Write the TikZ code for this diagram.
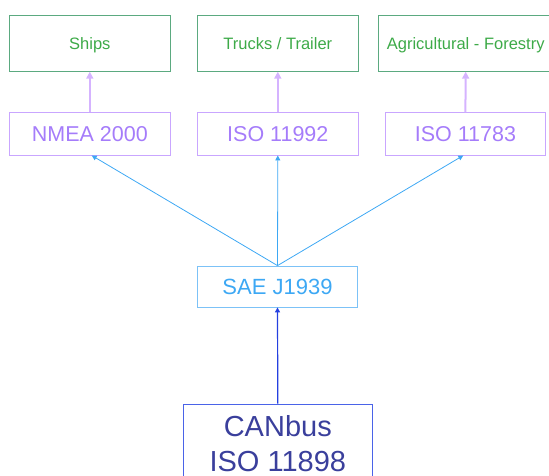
\documentclass[tikz,border=0pt]{standalone}
\usepackage{fontspec}
\setmainfont{Liberation Sans}
\usetikzlibrary{arrows.meta}
\definecolor{appdraw}{HTML}{5BAA80}
\definecolor{apptext}{HTML}{3DAA48}
\definecolor{stddraw}{HTML}{C9A6FF}
\definecolor{stdtext}{HTML}{A57CFA}
\definecolor{stdarrow}{HTML}{D5B3FF}
\definecolor{saedraw}{HTML}{7CC2F7}
\definecolor{saetext}{HTML}{3DA8F4}
\definecolor{candraw}{HTML}{4A63E8}
\definecolor{cantext}{HTML}{3A3F9C}
\definecolor{canarrow}{HTML}{2440E0}
\begin{document}
\begin{tikzpicture}[x=1pt,y=-1pt,box/.style={shape=rectangle,draw,inner sep=0pt,line width=0.8pt},appbox/.style={box,draw=appdraw,text=apptext,minimum width=161,minimum height=56,text height=13pt,text depth=0pt,font=\fontsize{16.5}{20}\selectfont},stdbox/.style={box,draw=stddraw,text=stdtext,minimum width=161,minimum height=42.3,text height=15.6pt,text depth=0pt,font=\fontsize{21.5}{26}\selectfont},up/.style={-{Triangle[length=5pt,width=5pt]}},upwide/.style={-{Triangle[length=7pt,width=7pt]}}]
\def\dx{188};
\def\xa{89.8};
\def\ya{43.3};
\def\yb{133.9};

\clip (0,0) rectangle (549,475);

\node[appbox] (ships) at (\xa,\ya) {Ships};
\node[appbox] (trucks) at (\xa+\dx,\ya) {Trucks / Trailer};
\node[appbox,minimum width=175] (agri) at (\xa+2*\dx-0.1,\ya) {Agricultural - Forestry};

\node[stdbox] (nmea) at (\xa,\yb) {NMEA 2000};
\draw[upwide,stdarrow,line width=2pt] (nmea.north) -- (ships.south);
\node[stdbox] (isoA) at (\xa+\dx,\yb) {ISO 11992};
\draw[upwide,stdarrow,line width=2pt] (isoA.north) -- (trucks.south);
\node[stdbox,minimum width=160.7] (isoB) at (\xa+2*\dx-0.4,\yb) {ISO 11783};
\draw[upwide,stdarrow,line width=2pt] (isoB.north) -- (agri.south);

\node[box,draw=saedraw,text=saetext,minimum width=160.4,minimum height=41,text height=16pt,text depth=0pt,font=\fontsize{22}{26}\selectfont] (sae) at (\xa+\dx-0.3,286.5) {SAE J1939};
\draw[up,saetext,line width=0.8pt] (sae.north) -- ([xshift=1.9pt]nmea.south);
\draw[up,saetext,line width=0.8pt] (sae.north) -- (isoA.south);
\draw[up,saetext,line width=0.8pt] (sae.north) -- ([xshift=-2.1pt]isoB.south);

\node[box,draw=candraw,text=cantext,minimum width=189,minimum height=80,align=center,font=\fontsize{29}{35}\selectfont] (can) at (\xa+\dx,444) {CANbus\\ISO 11898};
\draw[up,canarrow,line width=1.2pt] (can.north) -- (sae.south);
\end{tikzpicture}
\end{document}
